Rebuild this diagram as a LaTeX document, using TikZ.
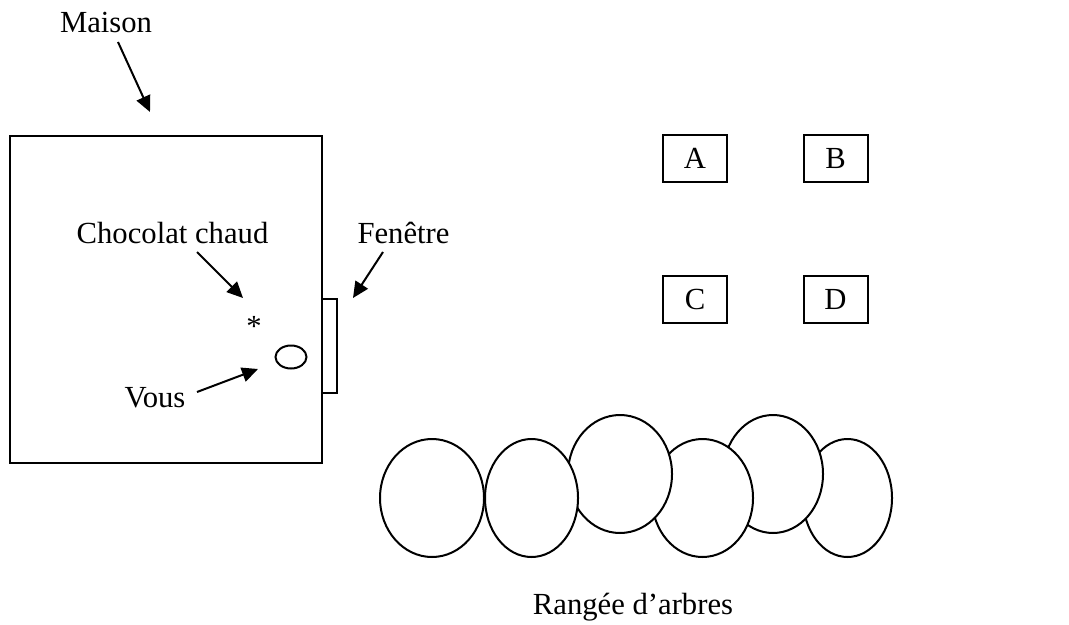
\documentclass[tikz,border=0pt]{standalone}
\usepackage{fontspec}
\setmainfont{Liberation Serif}
\usetikzlibrary{arrows.meta}
\begin{document}
\begin{tikzpicture}[x=0.75pt,y=-0.75pt,
  every node/.style={font=\fontsize{23}{27}\selectfont, inner sep=0pt},
  lbl/.style={anchor=base},
  line/.style={line width=1.5pt},
  pointer/.style={line width=1.5pt, -{Triangle[length=12pt,width=11pt]}},
  letterbox/.style={draw, line width=1.5pt, minimum width=48pt, minimum height=35.25pt},
  tree/.style={draw, line width=1.5pt, fill=white}]
\useasboundingbox (0,0) rectangle (1069,624);
% house and window
\draw[line] (10,136) rectangle (322,463);
\draw[line] (322,299) rectangle (337,393);
\draw[line] (291,357) ellipse [x radius=15.5, y radius=11.5];
\node (star) at (254,326) {*};
% labels
\node[lbl] (maison) at (106,33) {Maison};
\node[lbl] (choco) at (172.5,243) {Chocolat chaud};
\node[lbl] (fen) at (403.5,243) {Fenêtre};
\node[lbl] (vous) at (155,407) {Vous};
\node[lbl] (rangee) at (633,614) {Rangée d’arbres};
% arrow coordinates
\coordinate (m1) at (118,42); \coordinate (m2) at (150,112);
\coordinate (c1) at (197,252); \coordinate (c2) at (243,298);
\coordinate (f1) at (383,252); \coordinate (f2) at (353,298);
\coordinate (v1) at (197,392); \coordinate (v2) at (258,369);
\draw[pointer] (m1) -- (m2);
\draw[pointer] (c1) -- (c2);
\draw[pointer] (f1) -- (f2);
\draw[pointer] (v1) -- (v2);
% boxes
\node[letterbox] (A) at (695,158.5) {A};
\node[letterbox] (B) at (835.5,158.5) {B};
\node[letterbox] (C) at (695,299) {C};
\node[letterbox] (D) at (835.5,299) {D};
% trees (drawn back to front)
\draw[tree] (847.5,498) ellipse [x radius=44.5, y radius=59];
\draw[tree] (773,474) ellipse [x radius=50, y radius=59];
\draw[tree] (702.5,498) ellipse [x radius=50.5, y radius=59];
\draw[tree] (620,474) ellipse [x radius=52, y radius=59];
\draw[tree] (531.5,498) ellipse [x radius=46.5, y radius=59];
\draw[tree] (432,498) ellipse [x radius=52, y radius=59];
\end{tikzpicture}
\end{document}
